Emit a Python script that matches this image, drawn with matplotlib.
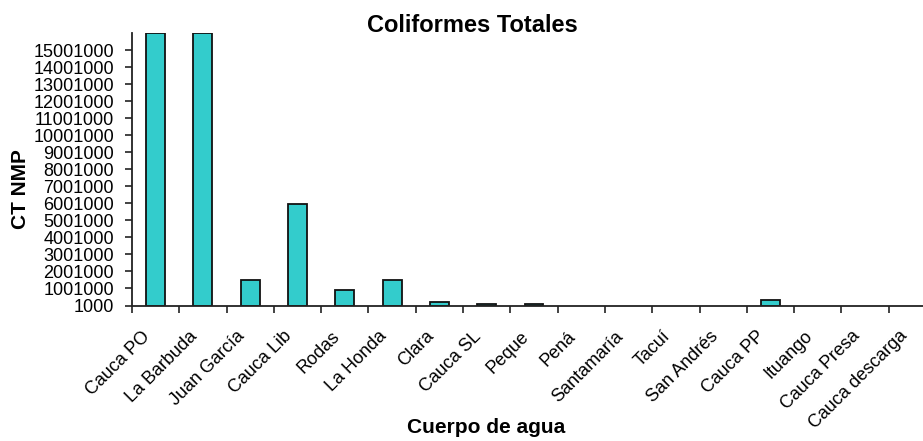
import numpy as np
import matplotlib.pyplot as plt
from matplotlib.transforms import ScaledTranslation

plt.rcParams['font.family'] = ['Liberation Sans', 'DejaVu Sans']

# Coliformes totales (NMP) por cuerpo de agua
sitios = ['Cauca PO', 'La Barbuda', 'Juan García', 'Cauca Lib', 'Rodas',
          'La Honda', 'Clara', 'Cauca SL', 'Peque', 'Pená', 'Santamaría',
          'Tacuí', 'San Andrés', 'Cauca PP', 'Ituango', 'Cauca Presa',
          'Cauca descarga']
ct_nmp = [16000000, 16000000, 1500000, 5950000, 900000,
          1500000, 220000, 100000, 80000, 1000, 1000,
          1000, 1000, 330000, 1000, 1000,
          1000]
base = 1000
y_ticks = list(range(1000, 15001001, 1000000))

fig = plt.figure(figsize=(9.23, 4.41), dpi=100)
ax = fig.add_axes([132/923, 1 - 305.5/441, 804/923, 272.5/441])

x = np.arange(len(sitios))
vals = np.array(ct_nmp, dtype=float)
h = vals - base
ax.bar(x[h > 0], h[h > 0], bottom=base, width=0.4, color='#33CCCC',
       edgecolor='#111111', linewidth=1.3)

ax.set_xlim(-0.5, len(sitios) - 0.5)
ax.set_ylim(base, 16001000)
ax.set_yticks(y_ticks)
ax.set_yticklabels([str(v) for v in y_ticks], fontsize=13)

# ticks between categories, labels at the centres
ax.set_xticks(x)
ax.set_xticklabels(sitios, rotation=45, ha='right', va='top',
                   rotation_mode='anchor', fontsize=13)
ax.tick_params(axis='x', which='major', length=0, pad=16)
shift = ScaledTranslation(-14/100, 0, fig.dpi_scale_trans)
for lab in ax.get_xticklabels():
    lab.set_transform(lab.get_transform() + shift)
ax.set_xticks(np.arange(len(sitios) + 1) - 0.5, minor=True)
ax.tick_params(axis='x', which='minor', length=5, width=1.2, color='#222222')
ax.tick_params(axis='y', length=5, width=1.2, color='#222222', pad=8)

for s in ['top', 'right']:
    ax.spines[s].set_visible(False)
for s in ['left', 'bottom']:
    ax.spines[s].set_linewidth(1.3)
    ax.spines[s].set_color('#222222')

fig.text(472/923, 1 - 31.5/441, 'Coliformes Totales', ha='center', va='baseline',
         fontsize=17, fontweight='bold')
fig.text(21/923, 1 - 189/441, 'CT NMP', ha='center', va='center',
         rotation=90, fontsize=15, fontweight='bold')
fig.text(486/923, 1 - 433/441, 'Cuerpo de agua', ha='center', va='baseline',
         fontsize=15, fontweight='bold')

fig.savefig('out.png', dpi=100)
